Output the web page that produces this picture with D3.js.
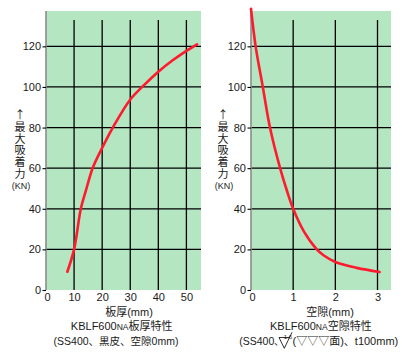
<!DOCTYPE html>
<html><head><meta charset="utf-8">
<script src="https://cdn.jsdelivr.net/npm/d3@7/dist/d3.min.js"></script>
<style>
html,body{margin:0;padding:0;background:#fff;}
svg{display:block;font-family:"Liberation Sans","Noto Sans CJK JP",sans-serif;}
</style></head>
<body>
<svg id="c" width="402" height="355"></svg>
<script>
// ---- data ----
const thicknessX = [7.6, 10, 12.4, 14.25, 16.6, 19.6, 23.8, 29.9, 35, 40, 45, 50, 53.8];
const thicknessForce = [9, 20, 40, 49.2, 60, 68.9, 80, 93.6, 101, 107.5, 113, 117.8, 121];
const gapX = [0, 0.11, 0.28, 0.45, 0.69, 0.85, 1.0, 1.25, 1.56, 1.72, 2, 2.51, 3.05];
const gapForce = [138.5, 120, 100, 80, 60, 49, 40, 29, 20, 17.1, 13.8, 10.9, 8.9];
const yTicks = [0, 20, 40, 60, 80, 100, 120];
const xTicksLeft = [0, 10, 20, 30, 40, 50];
const xTicksRight = [0, 1, 2, 3];
const yLabelText = "↑最大吸着力";

const svg = d3.select("#c");
const GREEN = "#b3e6c1", RED = "#ff1a2e", TXT = "#1a1a1a";
const plotTop = 11, plotBottom = 290;
const y = d3.scaleLinear().domain([0, 137.4]).range([plotBottom, plotTop]);

function panel(opt) {
  const x = d3.scaleLinear().domain(opt.xDomain).range([opt.x0, opt.x1]);
  const g = svg.append("g");
  g.append("rect").attr("x", opt.x0).attr("y", plotTop).attr("width", opt.x1 - opt.x0)
    .attr("height", plotBottom - plotTop).attr("fill", GREEN);
  // horizontal grid
  g.selectAll(".hg").data(yTicks.filter(d => d > 0)).join("line")
    .attr("x1", opt.x0).attr("x2", opt.x1).attr("y1", d => y(d)).attr("y2", d => y(d))
    .attr("stroke", "#000").attr("stroke-width", 1.3);
  // vertical grid
  g.selectAll(".vg").data(opt.xTicks.filter(d => d > 0)).join("line")
    .attr("x1", d => x(d)).attr("x2", d => x(d)).attr("y1", y(133)).attr("y2", plotBottom)
    .attr("stroke", "#000").attr("stroke-width", 1.3);
  // left axis
  const ya = d3.axisLeft(y).tickValues(yTicks).tickSize(3.5).tickPadding(1.5).tickFormat(d3.format("d"));
  const yg = g.append("g").attr("transform", `translate(${opt.x0},0)`).call(ya);
  yg.select(".domain").attr("stroke", "#8c8c8c").attr("stroke-width", 1.6)
    .attr("d", `M0,${plotTop}V${plotBottom}`);
  yg.selectAll(".tick line").attr("stroke", "#000").attr("stroke-width", 1.1);
  yg.selectAll(".tick text").attr("font-size", 11).attr("fill", TXT)
    .attr("font-family", "Liberation Sans");
  // bottom axis
  const xa = d3.axisBottom(x).tickValues(opt.xTicks).tickSize(0).tickPadding(3).tickFormat(d3.format("d"));
  const xg = g.append("g").attr("transform", `translate(0,${plotBottom})`).call(xa);
  xg.select(".domain").remove();
  xg.selectAll(".tick text").attr("font-size", 11).attr("fill", TXT)
    .attr("font-family", "Liberation Sans");
  xg.selectAll(".tick").filter(d => d === 0).select("text").attr("dx", 1);
  // curve
  const line = d3.line().x((d, i) => x(opt.xs[i])).y(d => y(d)).curve(d3.curveCatmullRom.alpha(0.5));
  g.append("path").attr("d", line(opt.ys)).attr("fill", "none").attr("stroke", RED)
    .attr("stroke-width", 2.6).attr("stroke-linecap", "round");
  // y label (vertical)
  g.append("text").attr("x", opt.labX).attr("y", 109.5)
    .style("writing-mode", "vertical-rl").style("text-orientation", "upright")
    .attr("letter-spacing", 0.7).attr("font-size", 11).attr("fill", TXT)
    .attr("font-family", "Noto Sans CJK JP").text(yLabelText);
  g.append("text").attr("x", opt.labX + 1).attr("y", 189).attr("text-anchor", "middle")
    .attr("font-size", 9).attr("fill", TXT).text("(KN)");
  return x;
}

panel({x0: 46, x1: 201, xDomain: [0, 55.2], xTicks: xTicksLeft, xs: thicknessX, ys: thicknessForce, labX: 20});
panel({x0: 251, x1: 391, xDomain: [0, 3.32], xTicks: xTicksRight, xs: gapX, ys: gapForce, labX: 223});

// captions
function caption(cx, yy, parts, fs) {
  const t = svg.append("text").attr("x", cx).attr("y", yy).attr("text-anchor", "middle")
    .attr("font-size", fs).attr("fill", TXT);
  parts.forEach(p => t.append("tspan").attr("font-size", p[1] || fs).text(p[0]));
  return t;
}
caption(129, 316, [["板厚(mm)"]], 11);
caption(121.7, 330, [["KBLF600"], ["NA", 8.5], ["板厚特性"]], 11);
caption(116, 344.5, [["(SS400、黒皮、空隙0mm)"]], 10.5);

caption(330, 316, [["空隙(mm)"]], 11);
caption(320.8, 330, [["KBLF600"], ["NA", 8.5], ["空隙特性"]], 11);
svg.append("text").attr("x", 274.3).attr("y", 344.5).attr("text-anchor", "end")
  .attr("font-size", 10.5).attr("fill", TXT).text("(SS400");
svg.append("text").attr("x", 274).attr("y", 344.5)
  .attr("font-size", 9.5).attr("fill", TXT).attr("font-family", "Noto Sans CJK JP").text("、");
// surface roughness symbol
svg.append("path").attr("d", "M279,337.5 L284.3,348.3 L292,332.3 M279,337.5 L289.6,337.5")
  .attr("fill", "none").attr("stroke", TXT).attr("stroke-width", 0.9);
svg.append("text").attr("x", 288).attr("y", 339).attr("text-anchor", "middle")
  .attr("font-size", 6).attr("fill", TXT).text("1.6");
svg.append("text").attr("x", 292.5).attr("y", 344.5)
  .attr("font-size", 11).attr("fill", TXT).text("(▽▽▽面)、t100mm)");
</script>
</body></html>
